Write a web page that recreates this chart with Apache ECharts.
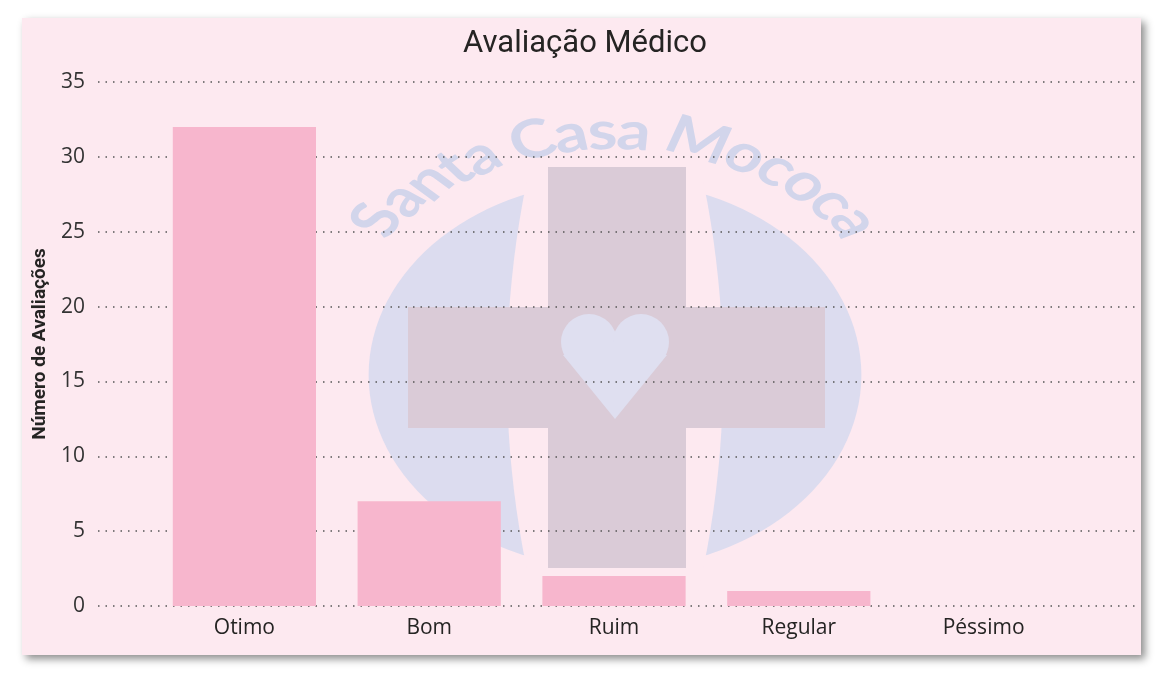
<!DOCTYPE html>
<html>
<head>
<meta charset="utf-8">
<script src="https://cdn.jsdelivr.net/npm/echarts@6/dist/echarts.min.js"></script>
<style>
  html, body { margin: 0; padding: 0; background: #ffffff; }
  #chart { width: 1156px; height: 673px; }
</style>
</head>
<body>
<div id="chart"></div>
<script>
const categories = ["Otimo", "Bom", "Ruim", "Regular", "Péssimo"]
const avaliacoes = [32, 7, 2, 1, 0]
const yTicks = [0, 5, 10, 15, 20, 25, 30, 35]

const titleText = "Avaliação Médico"
const yAxisName = "Número de Avaliações"
const watermarkText = "Santa Casa Mococa"

const panelColor = "#fde9f0"
const barColor = "#f7b6cd"

const chart = echarts.init(document.getElementById("chart"))

// watermark logo (a stretched round logo), drawn in local coords and scaled in x
const logoX = 615
const logoY = 375
const stretchX = 1.27
const wmFont = "bold {size}px Lato, 'DejaVu Sans', sans-serif"

function buildArcText() {
  const ctx = document.createElement("canvas").getContext("2d")
  ctx.font = wmFont.replace("{size}", 100)
  const chars = [...watermarkText]
  const widths = chars.map((ch) => ctx.measureText(ch).width)
  const total = widths.reduce((a, b) => a + b, 0)
  const centerSpan = total - widths[0] / 2 - widths[widths.length - 1] / 2
  const radius = 243
  const spanAngle = (101.5 * Math.PI) / 180
  const size = (100 * spanAngle * radius) / centerSpan
  const startCenter = (widths[0] * size) / 200
  const items = []
  let pos = 0
  chars.forEach((ch, i) => {
    const ww = (widths[i] * size) / 100
    const mid = pos + ww / 2
    pos += ww
    const th = -spanAngle / 2 + (mid - startCenter) / radius + 0.005
    items.push({
      type: "text",
      x: radius * Math.sin(th),
      y: -radius * Math.cos(th),
      rotation: -th * stretchX,
      style: {
        text: ch,
        font: wmFont.replace("{size}", size.toFixed(1)),
        fill: "#d2d5eb",
        align: "center",
        verticalAlign: "middle",
      },
    })
  })
  return items
}

function gapPoints(sign) {
  const pts = []
  for (let i = 0; i <= 24; i++) {
    const y = -230 + (i / 24) * 460
    const half = (108 - 17 * Math.pow(y / 180, 2)) / stretchX
    pts.push([sign * half, y])
  }
  return pts
}

const heartColor = "#dfdff0"
const crossColor = "#dacbd7"

const logo = {
  type: "group",
  x: logoX,
  y: logoY,
  scaleX: stretchX,
  z: -20,
  children: [
    { type: "circle", shape: { cx: 0, cy: 0, r: 194 }, style: { fill: "#dcdcef" } },
    {
      type: "polygon",
      shape: { points: gapPoints(-1).concat(gapPoints(1).reverse()) },
      style: { fill: panelColor },
    },
    {
      type: "rect",
      shape: { x: -67 / stretchX, y: -208, width: 138 / stretchX, height: 401 },
      style: { fill: crossColor },
    },
    {
      type: "rect",
      shape: { x: -207 / stretchX, y: -68, width: 417 / stretchX, height: 121 },
      style: { fill: crossColor },
    },
    { type: "circle", x: -26 / stretchX, y: -33, scaleX: 1 / stretchX, shape: { r: 28 }, style: { fill: heartColor } },
    { type: "circle", x: 26 / stretchX, y: -33, scaleX: 1 / stretchX, shape: { r: 28 }, style: { fill: heartColor } },
    {
      type: "polygon",
      shape: {
        points: [[-52 / stretchX, -20], [0, -33], [52 / stretchX, -20], [0, 44]],
      },
      style: { fill: heartColor },
    },
  ].concat(buildArcText()),
}

const graphic = [
  {
    type: "rect",
    z: -30,
    shape: { x: 22, y: 18, width: 1119, height: 637 },
    style: {
      fill: panelColor,
      shadowBlur: 8,
      shadowColor: "rgba(0,0,0,0.45)",
      shadowOffsetX: 4,
      shadowOffsetY: 4,
    },
  },
  logo,
]

const option = {
  backgroundColor: "#ffffff",
  animation: false,
  title: {
    text: titleText,
    left: 580,
    textAlign: "center",
    top: 24,
    textStyle: {
      fontFamily: "Roboto, sans-serif",
      fontSize: 31,
      fontWeight: "normal",
      color: "#252423",
    },
  },
  graphic: graphic,
  grid: [
    { left: 98, right: 19, top: 82, bottom: 67 },
    { left: 152, right: 80, top: 82, bottom: 67 },
  ],
  xAxis: [
    { gridIndex: 0, type: "value", min: 0, max: 1, show: false },
    {
      gridIndex: 1,
      type: "category",
      data: categories,
      axisLine: { show: false },
      axisTick: { show: false },
      axisLabel: {
        fontFamily: "'Open Sans', sans-serif",
        fontSize: 21,
        color: "#252423",
        margin: 12,
      },
    },
  ],
  yAxis: [
    {
      gridIndex: 0,
      type: "value",
      min: yTicks[0],
      max: yTicks[yTicks.length - 1],
      interval: 5,
      axisLine: { show: false },
      axisTick: { show: false },
      axisLabel: {
        fontFamily: "'Open Sans', sans-serif",
        fontSize: 21,
        color: "#333333",
        margin: 13,
      },
      splitLine: {
        lineStyle: {
          color: "#555555",
          width: 1.5,
          type: [1.5, 6],
        },
      },
      name: yAxisName,
      nameLocation: "middle",
      nameGap: 47,
      nameTextStyle: {
        fontFamily: "Roboto, sans-serif",
        fontSize: 19,
        fontWeight: "bold",
        color: "#252423",
      },
    },
    {
      gridIndex: 1,
      type: "value",
      min: yTicks[0],
      max: yTicks[yTicks.length - 1],
      show: false,
    },
  ],
  series: [
    {
      type: "bar",
      xAxisIndex: 1,
      yAxisIndex: 1,
      data: avaliacoes,
      barCategoryGap: "22.5%",
      itemStyle: { color: barColor },
    },
  ],
}

chart.setOption(option)
</script>
</body>
</html>
